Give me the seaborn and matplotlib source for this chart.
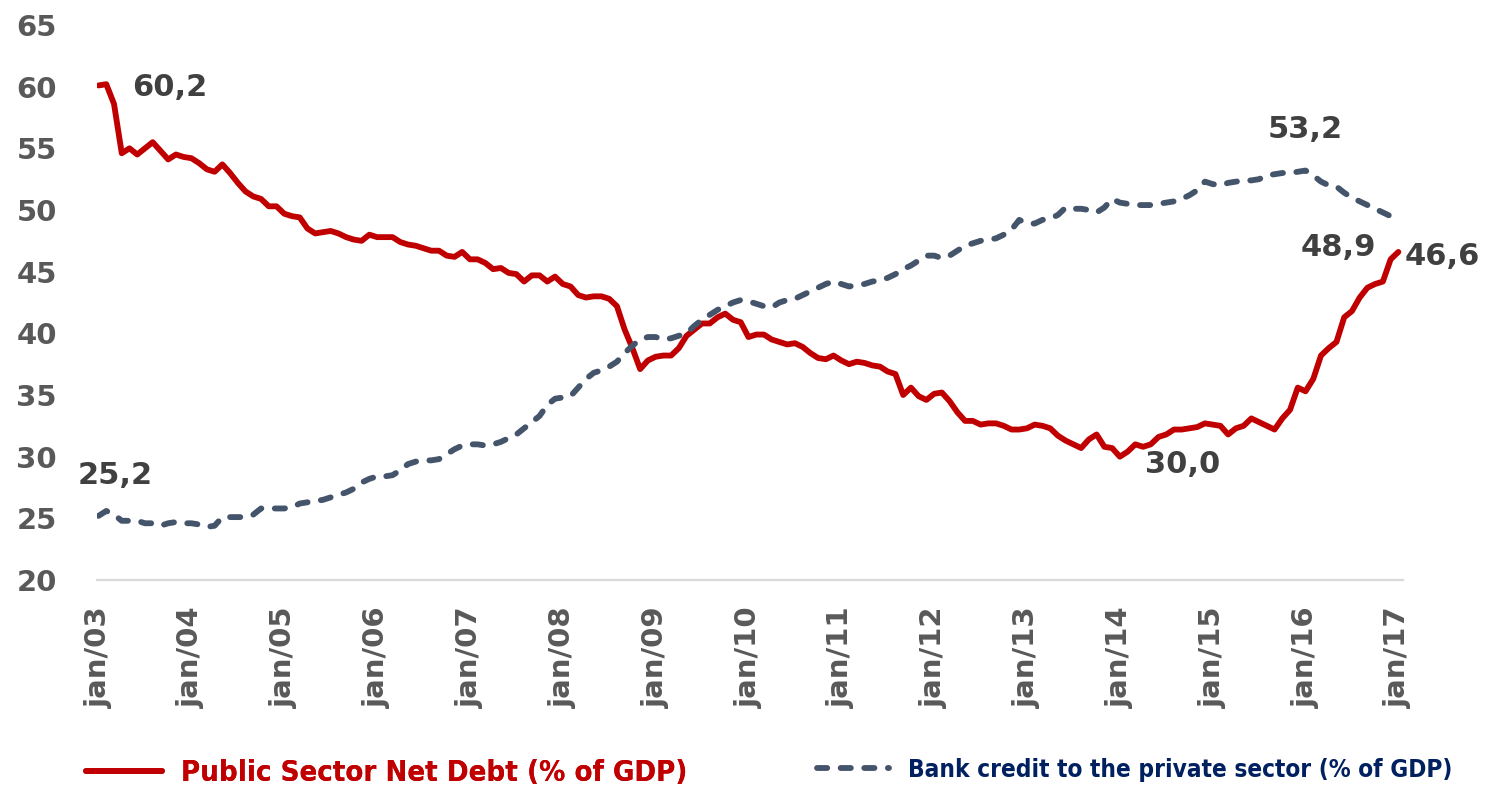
import numpy as np
import pandas as pd
import matplotlib
matplotlib.use("Agg")
import matplotlib.pyplot as plt
import seaborn as sns

# Monthly observations, jan/03 .. jan/17 (one row per year)
debt = [
    60.1, 60.2, 58.6, 54.6, 55.0, 54.5, 55.0, 55.5, 54.8, 54.1, 54.5, 54.3,
    54.2, 53.8, 53.3, 53.1, 53.7, 53.0, 52.2, 51.5, 51.1, 50.9, 50.3, 50.3,
    49.7, 49.5, 49.4, 48.5, 48.1, 48.2, 48.3, 48.1, 47.8, 47.6, 47.5, 48.0,
    47.8, 47.8, 47.8, 47.4, 47.2, 47.1, 46.9, 46.7, 46.7, 46.3, 46.2, 46.6,
    46.0, 46.0, 45.7, 45.2, 45.3, 44.9, 44.8, 44.2, 44.7, 44.7, 44.2, 44.6,
    44.0, 43.8, 43.1, 42.9, 43.0, 43.0, 42.8, 42.2, 40.3, 38.8, 37.1, 37.8,
    38.1, 38.2, 38.2, 38.8, 39.8, 40.3, 40.8, 40.8, 41.3, 41.6, 41.1, 40.9,
    39.7, 39.9, 39.9, 39.5, 39.3, 39.1, 39.2, 38.9, 38.4, 38.0, 37.9, 38.2,
    37.8, 37.5, 37.7, 37.6, 37.4, 37.3, 36.9, 36.7, 35.0, 35.6, 34.9, 34.6,
    35.1, 35.2, 34.5, 33.6, 32.9, 32.9, 32.6, 32.7, 32.7, 32.5, 32.2, 32.2,
    32.3, 32.6, 32.5, 32.3, 31.7, 31.3, 31.0, 30.7, 31.4, 31.8, 30.8, 30.7,
    30.0, 30.4, 31.0, 30.8, 31.0, 31.6, 31.8, 32.2, 32.2, 32.3, 32.4, 32.7,
    32.6, 32.5, 31.8, 32.3, 32.5, 33.1, 32.8, 32.5, 32.2, 33.1, 33.8, 35.6,
    35.3, 36.3, 38.2, 38.8, 39.3, 41.3, 41.8, 42.9, 43.7, 44.0, 44.2, 46.0,
    46.6,
]

credit = [
    25.2, 25.6, 25.3, 24.8, 24.8, 24.8, 24.6, 24.6, 24.4, 24.6, 24.7, 24.6,
    24.6, 24.5, 24.3, 24.4, 25.1, 25.1, 25.1, 25.1, 25.3, 25.8, 25.8, 25.8,
    25.8, 25.9, 26.2, 26.3, 26.4, 26.5, 26.7, 26.9, 27.1, 27.4, 27.9, 28.2,
    28.4, 28.4, 28.5, 28.9, 29.4, 29.6, 29.7, 29.7, 29.8, 30.2, 30.6, 30.9,
    31.0, 31.0, 30.9, 31.0, 31.2, 31.5, 31.8, 32.3, 32.8, 33.3, 34.2, 34.7,
    34.8, 34.9, 35.6, 36.3, 36.8, 37.0, 37.3, 37.7, 38.4, 39.0, 39.5, 39.7,
    39.7, 39.5, 39.6, 39.8, 40.0, 40.6, 41.1, 41.5, 41.9, 42.2, 42.5, 42.7,
    42.6, 42.4, 42.2, 42.1, 42.5, 42.7, 42.8, 43.1, 43.4, 43.7, 44.0, 44.2,
    44.0, 43.8, 43.9, 44.0, 44.2, 44.3, 44.5, 44.8, 45.2, 45.5, 45.9, 46.3,
    46.3, 46.1, 46.3, 46.7, 47.1, 47.3, 47.5, 47.6, 47.7, 48.0, 48.4, 49.2,
    48.9, 48.9, 49.2, 49.3, 49.6, 50.2, 50.1, 50.1, 50.0, 49.8, 50.2, 50.9,
    50.6, 50.5, 50.4, 50.4, 50.4, 50.5, 50.6, 50.7, 50.9, 51.2, 51.6, 52.3,
    52.1, 52.0, 52.2, 52.3, 52.4, 52.4, 52.5, 52.8, 52.9, 53.0, 53.0, 53.1,
    53.2, 52.8, 52.3, 52.0, 51.9, 51.4, 51.0, 50.7, 50.4, 50.1, 49.8, 49.5,
    48.9,
]

year_labels = ["jan/03", "jan/04", "jan/05", "jan/06", "jan/07", "jan/08", "jan/09",
               "jan/10", "jan/11", "jan/12", "jan/13", "jan/14", "jan/15", "jan/16",
               "jan/17"]

debt_name = "Public Sector Net Debt (% of GDP)"
credit_name = "Bank credit to the private sector (% of GDP)"

df = pd.DataFrame({"month": np.arange(len(debt)), "debt": debt, "credit": credit})

sns.set_style("white")
plt.rcParams["font.family"] = ["DejaVu Sans"]

RED = "#C00000"
SLATE = "#44546A"
TICK_GREY = "#595959"
LABEL_GREY = "#404040"
AXIS_GREY = "#D9D9D9"

W, H = 1491, 788
fig = plt.figure(figsize=(W / 100, H / 100), dpi=100)
ax = fig.add_axes([97 / W, 1 - 580 / H, (1403 - 97) / W, (580 - 25) / H])

sns.lineplot(data=df, x="month", y="debt", ax=ax, color=RED, linewidth=4.2,
             solid_joinstyle="round", solid_capstyle="round", legend=False)
sns.lineplot(data=df, x="month", y="credit", ax=ax, color=SLATE, linewidth=4.2,
             linestyle=(0, (1.75, 2.3)), dash_capstyle="round",
             dash_joinstyle="round", legend=False)
line_debt, line_credit = ax.lines[0], ax.lines[1]

ax.set_xlim(-0.2, 168.6)
ax.set_ylim(20, 65)
ax.set_yticks(np.arange(20, 66, 5))
ax.set_xticks(np.arange(0, len(debt), 12))
ax.set_xticklabels(year_labels, rotation=90)
ax.set_xlabel("")
ax.set_ylabel("")

for side in ("top", "right", "left"):
    ax.spines[side].set_visible(False)
ax.spines["bottom"].set_color(AXIS_GREY)
ax.spines["bottom"].set_linewidth(1.6)

ax.tick_params(axis="y", length=0, pad=29, labelsize=21, labelcolor=TICK_GREY)
ax.tick_params(axis="x", length=8, width=1.5, color=AXIS_GREY, direction="out",
               pad=11, labelsize=21, labelcolor=TICK_GREY)
for lab in ax.get_xticklabels() + ax.get_yticklabels():
    lab.set_fontweight("bold")

# value call-outs
def callout(text, x, y, dx, dy):
    ax.annotate(text, xy=(x, y), xytext=(dx, dy), textcoords="offset pixels",
                ha="center", va="center", fontsize=22, fontweight="bold",
                color=LABEL_GREY, annotation_clip=False)

def fmt(v):
    return f"{v:.1f}".replace(".", ",")

i_max = int(np.argmax(credit))
i_min = int(np.argmin(debt))
last = len(debt) - 1
callout(fmt(debt[1]), 1, debt[1], 63, -3)
callout(fmt(credit[0]), 0, credit[0], 17, 40)
callout(fmt(credit[i_max]), i_max, credit[i_max], 0, 41)
callout(fmt(credit[last]), last, credit[last], -60, -24)
callout(fmt(debt[last]), last, debt[last], 44, -5)
callout(fmt(debt[i_min]), i_min, debt[i_min], 63, -8)

# legend row underneath the chart
leg_font = dict(family="DejaVu Sans", weight="bold", stretch="condensed")
leg1 = fig.legend([line_debt], [debt_name], loc="center left",
                  bbox_to_anchor=(60 / W, 1 - 773 / H), frameon=False,
                  handlelength=2.6, handletextpad=0.65,
                  prop=dict(size=21, **leg_font))
leg1.get_texts()[0].set_color(RED)
leg2 = fig.legend([line_credit], [credit_name], loc="center left",
                  bbox_to_anchor=(795 / W, 1 - 770 / H), frameon=False,
                  handlelength=2.95, handletextpad=0.8,
                  prop=dict(size=17.5, **leg_font))
leg2.get_texts()[0].set_color("#002060")
fig.add_artist(leg1)

fig.savefig("out.png", dpi=100)
